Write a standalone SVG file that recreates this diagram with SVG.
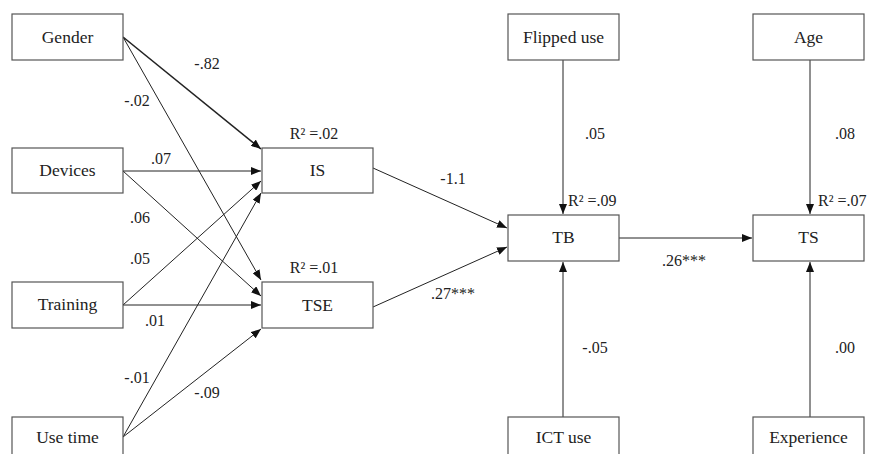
<svg xmlns="http://www.w3.org/2000/svg" width="870" height="454" viewBox="0 0 870 454">
<style>
.box{fill:#fff;stroke:#555;stroke-width:1.2}
.nt{font-size:17.5px;fill:#222;text-anchor:middle}
.lt{font-size:16px;fill:#222;text-anchor:middle}
.ln{stroke:#222;stroke-width:1;fill:none;marker-end:url(#ah)}
</style>
<defs>
<marker id="ah" viewBox="0 0 10 8" refX="10" refY="4" markerWidth="10" markerHeight="8" markerUnits="userSpaceOnUse" orient="auto">
<path d="M0,0 L10,4 L0,8 Z" fill="#111"/>
</marker>
</defs>
<rect width="870" height="454" fill="#fff"/>
<g id="connectors">
<line class="ln" x1="123" y1="37" x2="261" y2="149" style="stroke-width:1.6"/>
<line class="ln" x1="123" y1="37" x2="261" y2="280"/>
<line class="ln" x1="123" y1="171" x2="261" y2="171"/>
<line class="ln" x1="123" y1="171" x2="261" y2="296"/>
<line class="ln" x1="123" y1="305" x2="261" y2="181"/>
<line class="ln" x1="123" y1="305" x2="261" y2="305"/>
<line class="ln" x1="123" y1="437" x2="261" y2="193"/>
<line class="ln" x1="123" y1="437" x2="261" y2="329"/>
<line class="ln" x1="373" y1="168" x2="507" y2="228"/>
<line class="ln" x1="373" y1="307" x2="507" y2="247"/>
<line class="ln" x1="563" y1="60" x2="563" y2="214"/>
<line class="ln" x1="563" y1="417" x2="563" y2="262"/>
<line class="ln" x1="619" y1="238" x2="752" y2="238"/>
<line class="ln" x1="810" y1="60" x2="810" y2="214"/>
<line class="ln" x1="810" y1="417" x2="810" y2="262"/>
</g>
<g id="labels" font-family="Liberation Serif, DejaVu Serif, serif">
<text class="lt" x="207" y="69">-.82</text>
<text class="lt" x="137" y="106">-.02</text>
<text class="lt" x="161" y="164">.07</text>
<text class="lt" x="140" y="223">.06</text>
<text class="lt" x="140" y="264">.05</text>
<text class="lt" x="155" y="326">.01</text>
<text class="lt" x="137" y="383">-.01</text>
<text class="lt" x="207" y="398">-.09</text>
<text class="lt" x="453" y="184">-1.1</text>
<text class="lt" x="453" y="299">.27***</text>
<text class="lt" x="595" y="139">.05</text>
<text class="lt" x="845" y="139">.08</text>
<text class="lt" x="684" y="266">.26***</text>
<text class="lt" x="595" y="353">-.05</text>
<text class="lt" x="845" y="353">.00</text>
<text class="lt" x="314" y="139">R² =.02</text>
<text class="lt" x="314" y="273">R² =.01</text>
<text class="lt" x="568" y="206" style="text-anchor:start">R² =.09</text>
<text class="lt" x="818" y="206" style="text-anchor:start">R² =.07</text>
</g>
<g font-family="Liberation Serif, DejaVu Serif, serif">
<g id="gender"><rect class="box" x="12" y="14" width="111" height="46"/><text class="nt" x="67.5" y="43">Gender</text></g>
<g id="devices"><rect class="box" x="12" y="148" width="111" height="45"/><text class="nt" x="67.5" y="176">Devices</text></g>
<g id="training"><rect class="box" x="12" y="282" width="111" height="46"/><text class="nt" x="67.5" y="310">Training</text></g>
<g id="usetime"><rect class="box" x="12" y="417" width="111" height="46"/><text class="nt" x="67.5" y="443">Use time</text></g>
<g id="is"><rect class="box" x="262" y="148" width="111" height="45"/><text class="nt" x="317.5" y="176">IS</text></g>
<g id="tse"><rect class="box" x="262" y="282" width="111" height="46"/><text class="nt" x="317.5" y="311">TSE</text></g>
<g id="tb"><rect class="box" x="508" y="215" width="111" height="46"/><text class="nt" x="563.5" y="243">TB</text></g>
<g id="flipped"><rect class="box" x="508" y="14" width="111" height="46"/><text class="nt" x="563.5" y="43">Flipped use</text></g>
<g id="ict"><rect class="box" x="508" y="417" width="111" height="46"/><text class="nt" x="563.5" y="443">ICT use</text></g>
<g id="ts"><rect class="box" x="753" y="215" width="111" height="46"/><text class="nt" x="808.5" y="243">TS</text></g>
<g id="age"><rect class="box" x="753" y="14" width="111" height="46"/><text class="nt" x="808.5" y="43">Age</text></g>
<g id="experience"><rect class="box" x="753" y="417" width="111" height="46"/><text class="nt" x="808.5" y="443">Experience</text></g>
</g>
</svg>
